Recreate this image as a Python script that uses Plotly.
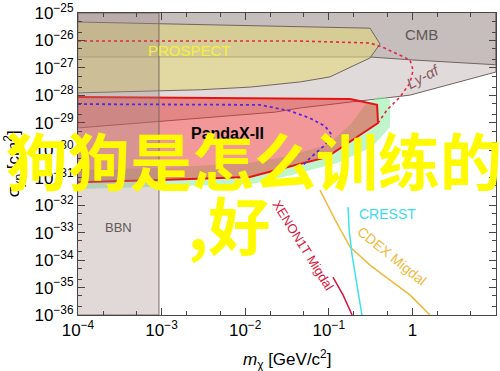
import plotly.graph_objects as go

# ---------------- data (mass in GeV/c^2, cross section in cm^2) ----------------
cmb_m = [1e-4, 1e-4, 0.31, 1.0, 10, 10]
cmb_s = [1e-25, 2.5e-27, 2.5e-27, 1.95e-27, 1.3e-27, 1e-25]

lya_m = [1e-4, 1e-4, 0.0227, 0.046, 0.935, 10, 10]
lya_s = [1e-25, 6.5e-30, 2.45e-29, 3.5e-29, 1.02e-28, 7.1e-28, 1e-25]

prospect_m = [1e-4, 0.311, 0.41, 0.311, 0.103, 0.046, 0.0115, 0.0029, 1e-4]
prospect_s = [4.7e-26, 2.8e-26, 7.4e-27, 2.3e-27, 4.7e-28, 3.1e-28, 2.0e-28, 1.6e-28, 1.23e-28]

green_m = [1e-4, 9.5e-4, 0.0114, 0.0283, 0.095, 0.18, 0.271, 0.388, 0.47,
           0.54, 0.54, 0.329, 0.129, 0.036, 0.012, 9.5e-4, 1e-4]
green_s = [1.9e-31, 2.24e-31, 3.5e-31, 5.6e-31, 1.55e-30, 8.3e-30, 4.5e-29, 8.7e-29, 8.7e-29,
           6.8e-29, 7.1e-30, 1.32e-30, 3.5e-31, 1.26e-31, 5.9e-32, 4.6e-32, 3.9e-32]

pandax_m = [1e-4, 0.18, 0.378, 0.388, 0.236, 0.095, 0.0283, 0.0114, 9.5e-4, 1e-4]
pandax_s = [8.7e-29, 7.4e-29, 4.5e-29, 9.8e-30, 3.6e-30, 5.6e-31, 2.2e-31, 1.07e-31, 8.3e-32, 6.9e-32]

bbn_m = [1e-4, 9.3e-4, 9.3e-4, 1e-4]
bbn_s = [1e-36, 1e-36, 1e-25, 1e-25]

reddash_m = [1e-4, 0.045, 0.311, 0.47, 0.935, 1.02, 0.935, 0.71, 0.497, 0.388]
reddash_s = [9.5e-27, 9.5e-27, 8.1e-27, 5.2e-27, 1.95e-27, 8.3e-28, 2.8e-28, 8.7e-29, 2.95e-29, 9.8e-30]

bluedash_m = [1e-4, 0.015, 0.0344, 0.0596, 0.09, 0.109, 0.09, 0.0596, 0.0453]
bluedash_s = [4.8e-29, 4.5e-29, 2.7e-29, 1.48e-29, 7.6e-30, 3.6e-30, 1.55e-30, 5.2e-31, 2.24e-31]

cdex_m = [0.0785, 0.119, 0.18, 0.311, 0.54, 0.935, 1.62]
cdex_s = [3.55e-32, 2.9e-33, 3.0e-34, 6.6e-35, 1.86e-35, 5.4e-36, 1e-36]

cresst_m = [0.17, 0.175, 0.19, 0.211, 0.249]
cresst_s = [8.5e-33, 1.26e-33, 1.5e-34, 1.86e-35, 1e-36]

xenon_m = [0.112, 0.148, 0.19]
xenon_s = [2.4e-35, 5.4e-36, 1e-36]

x_tickvals = [1e-4, 1e-3, 1e-2, 1e-1, 1]
x_ticktext = ["10<sup>−4</sup>", "10<sup>−3</sup>", "10<sup>−2</sup>", "10<sup>−1</sup>", "1"]
y_exps = list(range(-25, -37, -1))
y_tickvals = [10.0 ** e for e in y_exps]
y_ticktext = ["10<sup>−%d</sup>" % (-e) for e in y_exps]

# ---------------- figure ----------------
fig = go.Figure()
edge = "rgb(115,100,95)"

def region(xs, ys, fill, line_color=edge, width=1):
    fig.add_trace(go.Scatter(x=xs, y=ys, mode="lines", fill="toself", fillcolor=fill,
                             line=dict(color=line_color, width=width), hoverinfo="skip",
                             showlegend=False))

region(lya_m, lya_s, "rgba(205,193,193,0.6)")
region(cmb_m, cmb_s, "rgba(150,135,135,0.35)")
region(prospect_m, prospect_s, "rgba(226,215,122,0.58)")
region(green_m, green_s, "rgba(140,235,160,0.55)", line_color="rgba(0,0,0,0)", width=0)
region(pandax_m, pandax_s, "rgba(230,50,50,0.5)", line_color="rgb(228,20,20)", width=2)
region(bbn_m, bbn_s, "rgba(160,140,135,0.33)", line_color="rgb(125,105,95)", width=1)

def curve(xs, ys, color, dash="solid", width=1.5):
    fig.add_trace(go.Scatter(x=xs, y=ys, mode="lines",
                             line=dict(color=color, dash=dash, width=width),
                             hoverinfo="skip", showlegend=False))

curve(reddash_m, reddash_s, "rgb(228,40,70)", "dot", 1.6)
curve(bluedash_m, bluedash_s, "rgb(90,40,220)", "dot", 1.8)
curve(cdex_m, cdex_s, "rgb(240,185,60)")
curve(cresst_m, cresst_s, "rgb(60,225,240)")
curve(xenon_m, xenon_s, "rgb(215,20,60)")

font = "Liberation Sans, Arial, sans-serif"

def label(text, lx, ly, color, size, angle=0):
    fig.add_annotation(x=lx, y=ly, text=text, showarrow=False, textangle=angle,
                       font=dict(family=font, size=size, color=color),
                       xanchor="center", yanchor="middle")

label("PROSPECT", -2.672, -26.35, "rgb(245,240,60)", 15)
label("CMB", 0.103, -25.80, "rgb(95,88,88)", 15)
label("<i>Ly-αf</i>", 0.127, -27.33, "rgb(140,90,100)", 15, -28)
label("<b>PandaX-II</b>", -2.206, -29.40, "black", 16)
label("BBN", -3.52, -32.81, "rgb(100,90,90)", 13)
label("XENON1T Migdal", -1.309, -33.48, "rgb(215,20,60)", 13, 58)
label("CRESST", -0.292, -32.32, "rgb(60,220,240)", 14)
label("CDEX Migdal", -0.244, -33.85, "rgb(240,185,60)", 14, 39)

# axis titles
fig.add_annotation(xref="paper", yref="paper", x=-0.155, y=0.5,
                   text="σ<sub>χp</sub> [cm<sup>2</sup>]", showarrow=False, textangle=-90,
                   font=dict(family=font, size=17, color="black"),
                   xanchor="center", yanchor="middle")
fig.add_annotation(xref="paper", yref="paper", x=0.5, y=-0.149,
                   text="<i>m</i><sub>χ</sub> [GeV/c<sup>2</sup>]", showarrow=False,
                   font=dict(family=font, size=17, color="black"),
                   xanchor="center", yanchor="middle")

# overlay text
cjk = "Noto Sans CJK SC"
fig.add_annotation(xref="paper", yref="paper", x=0.421, y=0.515, text="<b>狗狗是怎么训练的</b>",
                   showarrow=False, font=dict(family=cjk, size=62, color="rgb(255,250,0)"),
                   xanchor="center", yanchor="middle")
fig.add_annotation(xref="paper", yref="paper", x=0.362, y=0.306, text="<b>,好</b>",
                   showarrow=False, font=dict(family=cjk, size=62, color="rgb(255,250,0)"),
                   xanchor="center", yanchor="middle")

axis_common = dict(type="log", showline=True, mirror="ticks", linecolor="rgb(70,70,70)",
                   linewidth=1, ticks="inside", ticklen=7, tickcolor="rgb(70,70,70)",
                   showgrid=False, zeroline=False, automargin=False, ticklabeloverflow="allow",
                   minor=dict(ticks="inside", ticklen=4, tickcolor="rgb(70,70,70)", showgrid=False),
                   tickfont=dict(family=font, size=17, color="black"))

fig.update_xaxes(range=[-4, 1], tickvals=x_tickvals, ticktext=x_ticktext, **axis_common)
fig.update_yaxes(range=[-36, -25], tickvals=y_tickvals, ticktext=y_ticktext, **axis_common)

fig.update_layout(width=500, height=371, margin=dict(l=78, r=4, t=13, b=56, autoexpand=False),
                  plot_bgcolor="white", paper_bgcolor="white", showlegend=False)

# remove the default 8px page margin so the figure fills the window exactly
fig.write_html("out.html", config={"displayModeBar": False},
               post_script="document.body.style.margin='0px';document.body.style.overflow='hidden';")
